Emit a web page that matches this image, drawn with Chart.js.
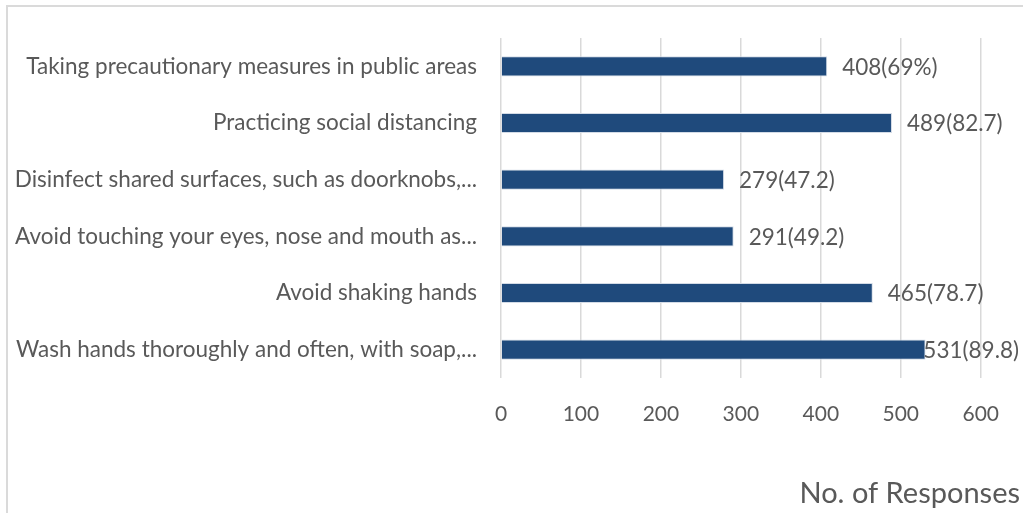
<!DOCTYPE html>
<html>
<head>
<meta charset="utf-8">
<script src="https://cdn.jsdelivr.net/npm/chart.js@4.4.1/dist/chart.umd.min.js"></script>
<style>
  html, body { margin: 0; padding: 0; background: #fff; }
  .wrap { position: relative; width: 1023px; height: 513px; overflow: hidden; }
  .frame {
    position: absolute; left: 6px; top: 5px; width: 1016px; height: 600px;
    border-left: 2px solid #dadada; border-top: 2px solid #dadada;
    pointer-events: none;
  }
</style>
</head>
<body>
<div class="wrap">
  <canvas id="measuresChart" width="1023" height="513"></canvas>
  <div class="frame"></div>
</div>
<script>
const measures = [
    'Taking precautionary measures in public areas',
    'Practicing social distancing',
    'Disinfect shared surfaces, such as doorknobs,...',
    'Avoid touching your eyes, nose and mouth as...',
    'Avoid shaking hands',
    'Wash hands thoroughly and often, with soap,...'
];
const responses = [408, 489, 279, 291, 465, 531];
const percents = ['69%', '82.7', '47.2', '49.2', '78.7', '89.8'];
const xTicks = [0, 100, 200, 300, 400, 500, 600];

const textColor = '#595959';
const fontFamily = 'Lato, "Noto Sans", sans-serif';

// value labels like "408(69%)" to the right of each bar
const valueLabels = {
    id: 'valueLabels',
    afterDatasetsDraw(chart) {
        const ctx = chart.ctx;
        const meta = chart.getDatasetMeta(0);
        ctx.save();
        ctx.font = '22.5px ' + fontFamily;
        ctx.fillStyle = textColor;
        ctx.textBaseline = 'middle';
        ctx.textAlign = 'left';
        meta.data.forEach((bar, i) => {
            const text = responses[i] + '(' + percents[i] + ')';
            const w = ctx.measureText(text).width;
            let x = bar.x + 15;
            if (x + w > chart.width - 4) x = chart.width - 4 - w;
            ctx.fillText(text, x, bar.y + 1);
        });
        ctx.restore();
    }
};

// axis title sits at the bottom right corner
const axisTitle = {
    id: 'axisTitle',
    afterDraw(chart) {
        const ctx = chart.ctx;
        ctx.save();
        ctx.font = '29px ' + fontFamily;
        ctx.fillStyle = textColor;
        ctx.textAlign = 'right';
        ctx.textBaseline = 'alphabetic';
        ctx.fillText('No. of Responses', chart.width - 3, 503);
        ctx.restore();
    }
};

const ctx = document.getElementById('measuresChart').getContext('2d');
new Chart(ctx, {
    type: 'bar',
    data: {
        labels: measures,
        datasets: [{
            data: responses,
            backgroundColor: '#1f4a7c',
            borderColor: '#d3dbe6',
            borderWidth: 1,
            barPercentage: 0.355,
            categoryPercentage: 1
        }]
    },
    options: {
        indexAxis: 'y',
        responsive: false,
        animation: false,
        layout: { padding: { top: 38, right: 38, left: 0, bottom: 0 } },
        plugins: {
            legend: { display: false },
            tooltip: { enabled: false }
        },
        scales: {
            x: {
                min: 0,
                max: 600,
                afterBuildTicks: (scale) => { scale.ticks = xTicks.map(v => ({ value: v })); },
                afterFit: (scale) => { scale.height = 135; },
                grid: { color: '#d9d9d9', lineWidth: 1.5, drawTicks: false },
                border: { display: false },
                ticks: {
                    color: textColor,
                    font: { family: fontFamily, size: 21 },
                    padding: 24
                }
            },
            y: {
                afterFit: (scale) => { scale.width = 501; },
                grid: { display: false, drawTicks: false },
                border: { display: false },
                ticks: {
                    color: textColor,
                    font: { family: fontFamily, size: 22.5 },
                    padding: 24,
                    autoSkip: false
                }
            }
        }
    },
    plugins: [valueLabels, axisTitle]
});
</script>
</body>
</html>
